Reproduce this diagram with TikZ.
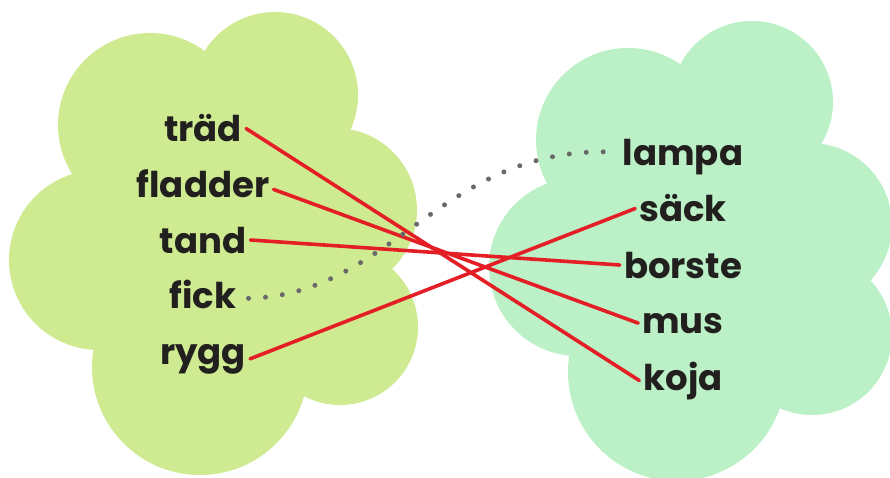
\documentclass[tikz,border=0pt]{standalone}
\usepackage{fontspec}
\newfontfamily\wordfont{Poppins}
\definecolor{leftgreen}{RGB}{207,235,145}
\definecolor{rightgreen}{RGB}{188,240,199}
\definecolor{linered}{RGB}{227,30,36}
\definecolor{dotgray}{RGB}{105,105,105}
\definecolor{wordblack}{RGB}{34,32,30}

\begin{document}
\begin{tikzpicture}[
    x=1pt, y=-1pt,
    word/.style={font=\wordfont\bfseries\fontsize{35.5}{40}\selectfont,
                 text=wordblack, inner sep=4pt, anchor=base},
    match/.style={linered, line width=3.6pt, line cap=round},
    hint/.style={dotgray, line width=5pt, line cap=round,
                 dash pattern=on 0pt off 17pt, shorten <=8pt, shorten >=12pt}
]
\useasboundingbox (0,0) rectangle (890,478);

% Left cloud
\fill[leftgreen] (230,240) circle[radius=130];
\fill[leftgreen] (150,125) circle[radius=92];
\fill[leftgreen] (275,95) circle[radius=83];
\fill[leftgreen] (335,210) circle[radius=82];
\fill[leftgreen] (340,327) circle[radius=78];
\fill[leftgreen] (200,367) circle[radius=108];
\fill[leftgreen] (99,260) circle[radius=90];

% Right cloud
\fill[rightgreen] (690,240) circle[radius=120];
\fill[rightgreen] (628,140) circle[radius=92];
\fill[rightgreen] (752,102) circle[radius=81];
\fill[rightgreen] (810,225) circle[radius=82];
\fill[rightgreen] (812,335) circle[radius=80];
\fill[rightgreen] (677,372) circle[radius=109];
\fill[rightgreen] (578,267) circle[radius=89];

% Left words
\node[word] (trad) at (203,142) {träd};
\node[word] (fladder) at (203,197) {fladder};
\node[word] (tand) at (203,253) {tand};
\node[word] (fick) at (203,308) {fick};
\node[word] (rygg) at (203,364) {rygg};

% Right words
\node[word] (lampa) at (683,166) {lampa};
\node[word] (sack) at (683,222) {säck};
\node[word] (borste) at (683,278) {borste};
\node[word] (mus) at (683,333) {mus};
\node[word] (koja) at (683,390) {koja};

% Matches
\draw[match] (trad.east) -- (koja.west);
\draw[match] (fladder.-5) -- (mus.west);
\draw[match] (tand.east) -- (borste.west);
\draw[match] (rygg.east) -- (sack.west);

% Dotted hint
\draw[hint] (fick.-7) .. controls (390,295) and (440,150) .. (lampa.175);
\end{tikzpicture}
\end{document}
